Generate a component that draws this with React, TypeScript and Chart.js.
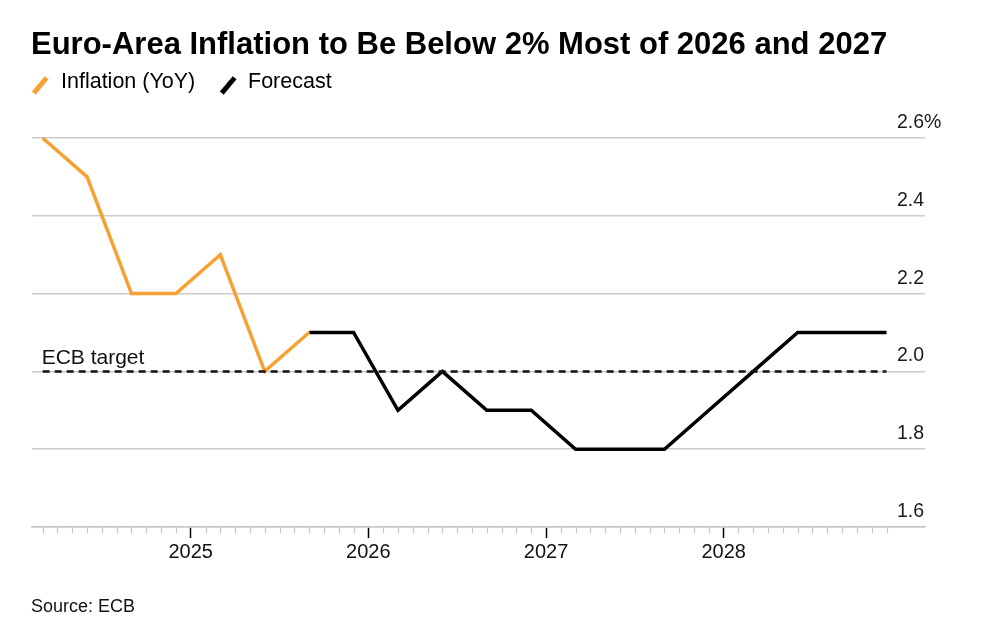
import React, { useEffect, useRef } from "react";
import { Chart, registerables } from "chart.js";

Chart.register(...registerables);

// ---- data (months counted from Jan 2024 = 0) ----
const inflationMonths = [2, 5, 8, 11, 14, 17, 20];
const inflationValues = [2.6, 2.5, 2.2, 2.2, 2.3, 2.0, 2.1];
const forecastMonths = [20, 23, 26, 29, 32, 35, 38, 41, 44, 47, 50, 53, 56, 59];
const forecastValues = [2.1, 2.1, 1.9, 2.0, 1.9, 1.9, 1.8, 1.8, 1.8, 1.9, 2.0, 2.1, 2.1, 2.1];
const targetMonths = [2, 59];
const targetValue = 2.0;
const yearTickMonths = [12, 24, 36, 48];
const yearTickLabels = ["2025", "2026", "2027", "2028"];
const yTickValues = [1.6, 1.8, 2.0, 2.2, 2.4, 2.6];
const yTickLabels = ["1.6", "1.8", "2.0", "2.2", "2.4", "2.6"];
const minorTickFirst = 2;
const minorTickLast = 59;

const ORANGE = "#F7A133";
const FONT = "'Liberation Sans', Arial, sans-serif";

const overlayPlugin = {
  id: "overlay",
  afterDraw(chart: any) {
    const { ctx, scales } = chart;
    const x = scales.x;
    const y = scales.y;
    ctx.save();
    // monthly minor ticks under the axis
    const base = y.getPixelForValue(yTickValues[0]);
    ctx.strokeStyle = "#c4c4c4";
    ctx.lineWidth = 1.2;
    for (let m = minorTickFirst; m <= minorTickLast; m++) {
      if (yearTickMonths.includes(m)) continue;
      const px = Math.round(x.getPixelForValue(m)) + 0.5;
      ctx.beginPath();
      ctx.moveTo(px, base);
      ctx.lineTo(px, base + 6);
      ctx.stroke();
    }
    // y tick labels above the grid lines, right aligned
    ctx.font = `19.5px ${FONT}`;
    ctx.fillStyle = "#1a1a1a";
    ctx.textBaseline = "alphabetic";
    const right = chart.chartArea.right - 1;
    yTickValues.forEach((v, i) => {
      const py = y.getPixelForValue(v) - 10;
      ctx.textAlign = "right";
      ctx.fillText(yTickLabels[i], right, py);
      if (i === yTickValues.length - 1) {
        ctx.textAlign = "left";
        ctx.fillText("%", right, py);
      }
    });
    // ECB target label
    ctx.font = `21px ${FONT}`;
    ctx.textAlign = "left";
    ctx.fillStyle = "#111";
    ctx.fillText("ECB target", x.getPixelForValue(targetMonths[0]) - 1, y.getPixelForValue(targetValue) - 7);
    ctx.restore();
  },
};

export default function App() {
  const canvasRef = useRef<HTMLCanvasElement | null>(null);

  useEffect(() => {
    document.body.style.margin = "0";
    const canvas = canvasRef.current;
    if (!canvas) return;
    const chart = new Chart(canvas, {
      type: "line",
      data: {
        datasets: [
          {
            label: "ECB target",
            data: targetMonths.map((m) => ({ x: m, y: targetValue })),
            borderColor: "#111",
            borderWidth: 2.5,
            borderDash: [7, 5],
            pointRadius: 0,
            tension: 0,
            clip: false,
          } as any,
          {
            label: "Inflation (YoY)",
            data: inflationMonths.map((m, i) => ({ x: m, y: inflationValues[i] })),
            borderColor: ORANGE,
            borderWidth: 3.5,
            pointRadius: 0,
            tension: 0,
            clip: false,
          },
          {
            label: "Forecast",
            data: forecastMonths.map((m, i) => ({ x: m, y: forecastValues[i] })),
            borderColor: "#000",
            borderWidth: 3.5,
            pointRadius: 0,
            tension: 0,
            clip: false,
          },
        ],
      },
      options: {
        animation: false,
        responsive: false,
        devicePixelRatio: 1,
        layout: { padding: { left: 32, right: 61, top: 138, bottom: 0 } },
        plugins: { legend: { display: false }, tooltip: { enabled: false } },
        scales: {
          x: {
            type: "linear",
            position: "bottom",
            min: 1.28,
            max: 61.6,
            afterBuildTicks: (scale: any) => {
              scale.ticks = yearTickMonths.map((v) => ({ value: v }));
            },
            afterFit: (scale: any) => {
              scale.height = 113;
            },
            grid: {
              drawOnChartArea: false,
              drawTicks: true,
              tickLength: 11,
              tickColor: "#000",
              tickWidth: 1.5,
            },
            border: { display: true, color: "#c8c8c8", width: 1.5 },
            ticks: {
              autoSkip: false,
              maxRotation: 0,
              padding: 2,
              color: "#111",
              font: { family: FONT, size: 20 },
              callback: (value: any) => {
                const i = yearTickMonths.indexOf(Number(value));
                return i >= 0 ? yearTickLabels[i] : "";
              },
            },
          },
          y: {
            type: "linear",
            position: "right",
            min: yTickValues[0],
            max: yTickValues[yTickValues.length - 1],
            afterBuildTicks: (scale: any) => {
              scale.ticks = yTickValues.map((v) => ({ value: v }));
            },
            afterFit: (scale: any) => {
              scale.width = 0;
            },
            grid: { color: "#cccccc", lineWidth: 1.5, drawTicks: false },
            border: { display: false },
            ticks: { display: false },
          },
        },
      },
      plugins: [overlayPlugin],
    });
    return () => chart.destroy();
  }, []);

  const slash = (cx: number, color: string): React.CSSProperties => ({
    position: "absolute",
    left: cx - 10,
    top: 85 - 2.25,
    width: 20,
    height: 4.5,
    background: color,
    transform: "rotate(-50deg)",
  });

  return (
    <div style={{ position: "relative", width: 986, height: 640, background: "#fff", fontFamily: FONT, color: "#000" }}>
      <canvas ref={canvasRef} width={986} height={640} style={{ position: "absolute", left: 0, top: 0, width: 986, height: 640 }} />
      <div style={{ position: "absolute", left: 31, top: 28, fontSize: 31, lineHeight: 1, fontWeight: 700, whiteSpace: "nowrap" }}>
        Euro-Area Inflation to Be Below 2% Most of 2026 and 2027
      </div>
      <div style={slash(40, ORANGE)} />
      <div style={{ position: "absolute", left: 61, top: 70.5, fontSize: 21.5, lineHeight: 1, whiteSpace: "nowrap" }}>Inflation (YoY)</div>
      <div style={slash(228, "#000")} />
      <div style={{ position: "absolute", left: 248, top: 70.5, fontSize: 21.5, lineHeight: 1, whiteSpace: "nowrap" }}>Forecast</div>
      <div style={{ position: "absolute", left: 31, top: 597, fontSize: 18, lineHeight: 1, whiteSpace: "nowrap", color: "#111" }}>Source: ECB</div>
    </div>
  );
}
